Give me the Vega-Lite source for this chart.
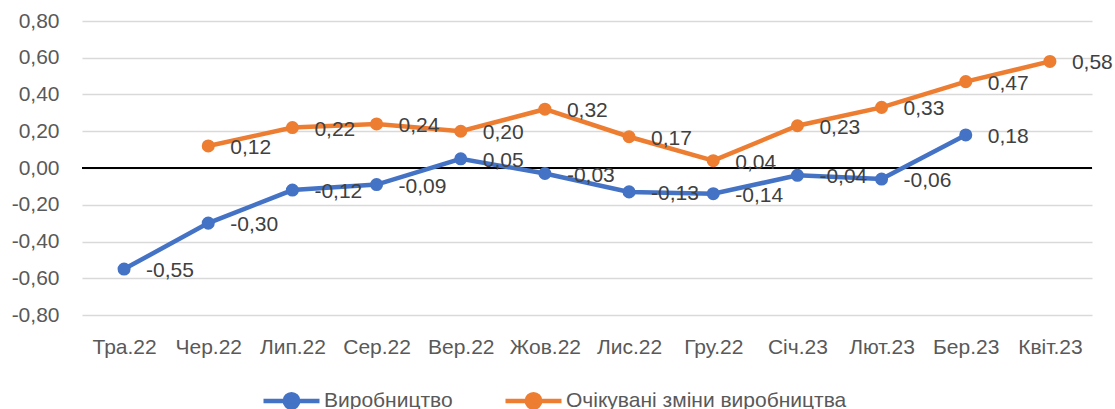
{
  "$schema": "https://vega.github.io/schema/vega-lite/v6.json",
  "width": 1010,
  "height": 294,
  "autosize": "none",
  "padding": {"left": 82, "top": 21, "right": 23, "bottom": 94},
  "config": {
    "view": {"stroke": null},
    "font": "Liberation Sans",
    "locale": {"number": {"decimal": ",", "thousands": " ", "grouping": [3], "currency": ["", ""], "minus": "-"}}
  },
  "data": {"values": [
    {"month": "Тра.22", "series": "Виробництво", "value": -0.55},
    {"month": "Чер.22", "series": "Виробництво", "value": -0.30},
    {"month": "Лип.22", "series": "Виробництво", "value": -0.12},
    {"month": "Сер.22", "series": "Виробництво", "value": -0.09},
    {"month": "Вер.22", "series": "Виробництво", "value": 0.05},
    {"month": "Жов.22", "series": "Виробництво", "value": -0.03},
    {"month": "Лис.22", "series": "Виробництво", "value": -0.13},
    {"month": "Гру.22", "series": "Виробництво", "value": -0.14},
    {"month": "Січ.23", "series": "Виробництво", "value": -0.04},
    {"month": "Лют.23", "series": "Виробництво", "value": -0.06},
    {"month": "Бер.23", "series": "Виробництво", "value": 0.18},
    {"month": "Чер.22", "series": "Очікувані зміни виробництва", "value": 0.12},
    {"month": "Лип.22", "series": "Очікувані зміни виробництва", "value": 0.22},
    {"month": "Сер.22", "series": "Очікувані зміни виробництва", "value": 0.24},
    {"month": "Вер.22", "series": "Очікувані зміни виробництва", "value": 0.20},
    {"month": "Жов.22", "series": "Очікувані зміни виробництва", "value": 0.32},
    {"month": "Лис.22", "series": "Очікувані зміни виробництва", "value": 0.17},
    {"month": "Гру.22", "series": "Очікувані зміни виробництва", "value": 0.04},
    {"month": "Січ.23", "series": "Очікувані зміни виробництва", "value": 0.23},
    {"month": "Лют.23", "series": "Очікувані зміни виробництва", "value": 0.33},
    {"month": "Бер.23", "series": "Очікувані зміни виробництва", "value": 0.47},
    {"month": "Квіт.23", "series": "Очікувані зміни виробництва", "value": 0.58}
  ]},
  "encoding": {
    "x": {
      "field": "month", "type": "ordinal",
      "sort": ["Тра.22","Чер.22","Лип.22","Сер.22","Вер.22","Жов.22","Лис.22","Гру.22","Січ.23","Лют.23","Бер.23","Квіт.23"],
      "scale": {"domain": ["Тра.22","Чер.22","Лип.22","Сер.22","Вер.22","Жов.22","Лис.22","Гру.22","Січ.23","Лют.23","Бер.23","Квіт.23"], "padding": 0.5},
      "axis": {"title": null, "domain": false, "ticks": false, "labelAngle": 0, "labelFontSize": 21, "labelColor": "#595959", "labelPadding": 21, "grid": false}
    },
    "y": {
      "field": "value", "type": "quantitative",
      "scale": {"domain": [-0.8, 0.8], "nice": false, "zero": false},
      "axis": {"title": null, "domain": false, "ticks": false, "values": [-0.8,-0.6,-0.4,-0.2,0,0.2,0.4,0.6,0.8], "format": ".2f", "labelFontSize": 21, "labelColor": "#595959", "labelPadding": 23, "gridColor": "#d9d9d9", "gridWidth": 1.3}
    },
    "color": {
      "field": "series", "type": "nominal",
      "scale": {"domain": ["Виробництво", "Очікувані зміни виробництва"], "range": ["#4472C4", "#ED7D31"]},
      "legend": {
        "title": null, "orient": "none", "legendX": 179, "legendY": 349, "direction": "horizontal",
        "symbolType": "M-1,0L1,0M0.24,0A0.24,0.24 0 1,1 -0.24,0A0.24,0.24 0 1,1 0.24,0Z",
        "symbolSize": 3136, "symbolStrokeWidth": 4.5, "labelFontSize": 21, "labelColor": "#595959",
        "labelOffset": 2, "columnPadding": 43, "labelLimit": 500,
        "encode": {"symbols": {"update": {"fill": {"scale": "color", "field": "value"}, "stroke": {"scale": "color", "field": "value"}, "strokeWidth": {"value": 4.5}}}}
      }
    }
  },
  "layer": [
    {"mark": {"type": "rule", "color": "#000000", "strokeWidth": 1.5}, "encoding": {"y": {"datum": 0}, "x": null, "color": null}},
    {"mark": {"type": "line", "strokeWidth": 4.5, "point": {"filled": true, "size": 170}}},
    {"mark": {"type": "text", "align": "left", "baseline": "middle", "dx": 22, "dy": 2, "fontSize": 21, "color": "#404040"},
     "encoding": {"text": {"field": "value", "type": "quantitative", "format": ".2f"}, "color": null}}
  ]
}
